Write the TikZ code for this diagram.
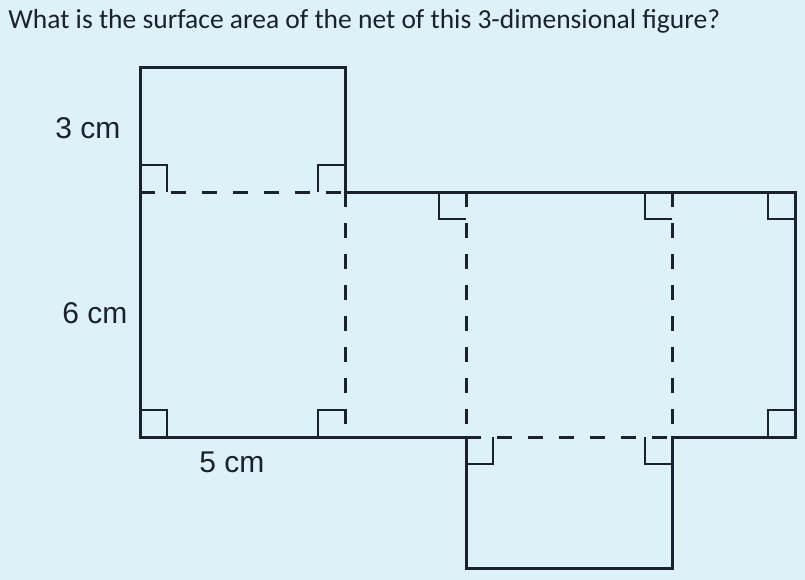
\documentclass[tikz,border=0pt]{standalone}
\usepackage{fontspec}
\setmainfont{Liberation Sans}
\newfontfamily\titlefont{Carlito}
\usepackage{tikz}
\definecolor{paper}{HTML}{DCF1F8}
\definecolor{ink}{HTML}{1B2130}

\begin{document}
\begin{tikzpicture}[x=1pt,y=-1pt,line width=3pt,draw=ink,line join=miter,
        every node/.style={inner sep=0pt,text=ink,font=\fontsize{30}{32}\selectfont},
        fold/.style={dash pattern=on 15pt off 16pt},
        rightmark/.style={line width=2.6pt}]
        \fill[paper] (0,0) rectangle (805,580);
        \useasboundingbox (0,0) rectangle (805,580);

        \node[anchor=west,font=\titlefont\fontsize{27.5}{30}\selectfont] (title) at (7,21)
            {What is the surface area of the net of this 3-dimensional figure?};

        % outline of the net
        \draw (140,437) -- (140,68) -- (345,68) -- (345,192) -- (795,192) -- (795,437)
            -- (672,437) -- (672,568) -- (466,568) -- (466,437) -- cycle;

        % folds
        \draw[fold] (140,192) -- (345,192);
        \draw[fold] (345,192) -- (345,437);
        \draw[fold] (466,192) -- (466,437);
        \draw[fold] (672,192) -- (672,437);
        \draw[fold] (466,437) -- (672,437);

        % right angles: corner / direction
        \foreach \cx/\cy/\dx/\dy in {140/192/27/-27, 345/192/-27/-27, 140/437/27/-27, 345/437/-27/-27,
                466/192/-27/27, 672/192/-27/27, 795/192/-27/27, 795/437/-27/-27,
                466/437/27/27, 672/437/-27/27}
            \draw[rightmark] (\cx+\dx,\cy) -- (\cx+\dx,\cy+\dy) -- (\cx,\cy+\dy);

        \node (lHeight) at (88,128) {3 cm};
        \node (lLength) at (95,313) {6 cm};
        \node (lWidth) at (232,462) {5 cm};
    \end{tikzpicture}
\end{document}
